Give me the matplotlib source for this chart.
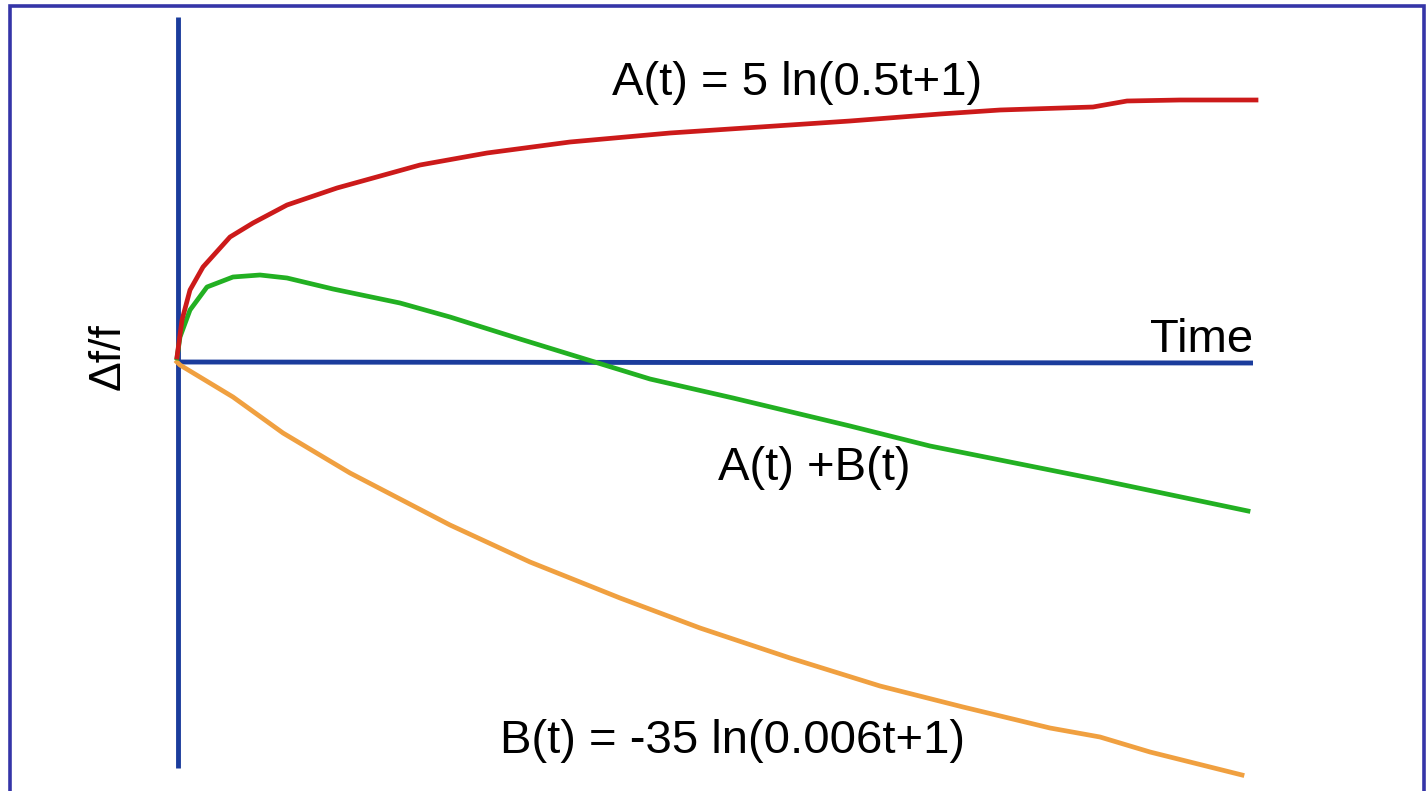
import matplotlib
matplotlib.use("Agg")
import matplotlib.pyplot as plt
from matplotlib.patches import Rectangle

# ====== Data (schematic units: time offset, Δf/f offset) ======
red_t = [0, 5, 13, 26, 53, 76, 110, 160, 243, 310, 393, 493, 583, 673, 763, 823, 916, 950, 1003, 1079]
red_v = [5, 42, 72, 95, 125, 139, 157, 174, 197, 209, 220, 229, 235, 241, 248, 252, 255, 261, 262, 262]

green_t = [0, 3, 13, 30, 56, 83, 110, 156, 223, 273, 343, 421, 473, 556, 673, 753, 773, 873, 923, 1071]
green_v = [4, 25, 52, 75, 85, 87, 84, 73, 59, 45, 23, -1, -17, -36, -64, -84, -88, -108, -118, -149]

orange_t = [0, 3, 56, 106, 173, 273, 353, 443, 523, 613, 703, 786, 873, 923, 973, 1065]
orange_v = [0, -3, -35, -71, -111, -163, -200, -236, -266, -296, -324, -345, -366, -375, -390, -413]

time_axis_t = [0, 1076]
time_axis_v = [0, -1]
df_axis_t = [1, 1]
df_axis_v = [345, -406]

RED = "#CC1A1A"
GREEN = "#22B022"
ORANGE = "#F0A040"
AXIS_BLUE = "#1B3C9C"
FRAME_BLUE = "#3535A8"
FONT = "Liberation Sans"

fig = plt.figure(figsize=(14.26, 7.91), dpi=100)
ax = fig.add_axes([0, 0, 1, 1])
ax.set_xlim(-177, 1249)
ax.set_ylim(-429, 362)
ax.axis("off")

# axes drawn as plain lines
ax.plot(df_axis_t, df_axis_v, color=AXIS_BLUE, lw=3.5, solid_capstyle="butt")
ax.plot(time_axis_t, time_axis_v, color=AXIS_BLUE, lw=3.5, solid_capstyle="butt")

ax.plot(orange_t, orange_v, color=ORANGE, lw=3.4, solid_joinstyle="round")
ax.plot(green_t, green_v, color=GREEN, lw=3.4, solid_joinstyle="round")
ax.plot(red_t, red_v, color=RED, lw=3.4, solid_joinstyle="round")

ax.text(435, 267, "A(t) = 5 ln(0.5t+1)", fontsize=34, family=FONT,
        ha="left", va="baseline")
ax.text(541, -118, "A(t) +B(t)", fontsize=34, family=FONT,
        ha="left", va="baseline")
ax.text(323, -391, "B(t) = -35 ln(0.006t+1)", fontsize=34, family=FONT,
        ha="left", va="baseline")
ax.text(1076, 10, "Time", fontsize=34, family=FONT, ha="right", va="baseline")
ax.text(-69, 5, "Δf/f", fontsize=32, family=FONT, rotation=90,
        ha="center", va="center")

# outer frame (bottom edge runs off the image)
fig.add_artist(Rectangle((10 / 1426, -0.02), (1424 - 10) / 1426, 1.02 - 6 / 791,
                         transform=fig.transFigure, fill=False,
                         edgecolor=FRAME_BLUE, lw=2.6))

fig.savefig("out.png", dpi=100)
